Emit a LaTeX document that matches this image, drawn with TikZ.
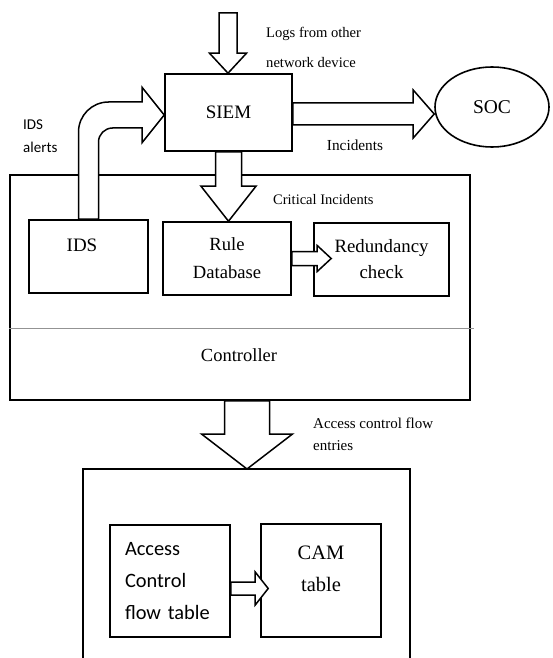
\documentclass[tikz,border=0pt]{standalone}
\usepackage{fontspec}
\setmainfont{Liberation Serif}
\newfontfamily\calib{Carlito}
\usetikzlibrary{calc,shapes.geometric}
\begin{document}
\begin{tikzpicture}[x=1pt,y=-1pt,
  box/.style={draw,line width=1.6pt,inner sep=0pt},
  barrow/.style={draw,fill=white,line width=1.5pt,line join=miter,miter limit=10},
  divider/.style={draw=gray!85,line width=0.9pt},
  lbl/.style={inner sep=0pt}]
\useasboundingbox (0,0) rectangle (552,658);

% main boxes
\node[box,minimum width=460pt,minimum height=225pt] (ctrl) at (240,287.5) {};
\node[box,minimum width=127pt,minimum height=77pt,font=\fontsize{19}{23}\selectfont] (siem) at (228.5,112.5) {SIEM};
\node[draw,ellipse,line width=1.6pt,minimum width=114pt,minimum height=80pt,inner sep=0pt,font=\fontsize{19.5}{23}\selectfont] (soc) at (492,107) {SOC};
\node[box,minimum width=119pt,minimum height=73pt] (ids) at (88.5,256.5) {};
\node[lbl,font=\fontsize{19}{23}\selectfont] (idsT) at (82,245) {IDS};
\node[box,minimum width=128pt,minimum height=73pt,align=center,font=\fontsize{18.6}{28}\selectfont] (rule) at (227,258.5) {Rule\\Database};
\node[box,minimum width=135pt,minimum height=73pt,align=center,font=\fontsize{18.8}{26}\selectfont] (red) at (381.5,259.5) {Redundancy\\check};
\coordinate (divR) at (474,328);
\draw[divider] (ctrl.west |- divR) -- (divR);
\node[lbl,font=\fontsize{18.5}{22}\selectfont] (ctrlT) at (239,355) {Controller};

% lower switch box (open at the bottom)
\coordinate (lowtop) at (247,469);
\draw[line width=1.6pt] (83,658) -- (83,469) -- (410,469) -- (410,658);
\node[box,minimum width=120pt,minimum height=112pt,text width=90pt,align=left,font=\calib\fontsize{20.4}{32}\selectfont] (acc) at (170,581) {Access\\Control\\flow table};
\node[box,minimum width=120pt,minimum height=113pt] (cam) at (321,580.5) {};
\node[lbl,align=center,font=\fontsize{20.5}{32}\selectfont] (camT) at (321,569) {CAM\\table};

% labels
\node[lbl,anchor=west,align=left,font=\fontsize{14.6}{30}\selectfont] (logsT) at (266,47) {Logs from other\\network device};
\node[lbl,anchor=west,align=left,font=\calib\fontsize{15}{23}\selectfont] (idsA) at (23,136.5) {IDS\\alerts};
\node[lbl,font=\fontsize{15.3}{18}\selectfont] (incT) at (355,145) {Incidents};
\node[lbl,anchor=west,font=\fontsize{14.5}{18}\selectfont] (critT) at (273,200) {Critical Incidents};
\node[lbl,anchor=west,align=left,font=\fontsize{15}{22}\selectfont] (accT) at (313,434) {Access control flow\\entries};

\coordinate (logsrc) at (228,13);

% block arrows
\draw[barrow] let \p1=(logsrc),\p2=(siem.north) in
  (\x1-9pt,\y1) -- (\x1-9pt,\y2+20pt) -- (\x1-18.5pt,\y2+20pt) -- (\x1,\y2)
  -- (\x1+18.5pt,\y2+20pt) -- (\x1+9pt,\y2+20pt) -- (\x1+9pt,\y1) -- cycle;

\draw[barrow] let \p1=(siem.south),\p2=(rule.north) in
  (\x1-13pt,\y1) -- (\x1-13pt,\y2+35pt) -- (\x1-27.5pt,\y2+35pt) -- (\x1,\y2)
  -- (\x1+27.5pt,\y2+35pt) -- (\x1+13pt,\y2+35pt) -- (\x1+13pt,\y1) -- cycle;

\draw[barrow] let \p1=(ctrl.south -| lowtop),\p2=(lowtop) in
  (\x1-22.5pt,\y1) -- (\x1-22.5pt,\y2+35pt) -- (\x1-45.5pt,\y2+35pt) -- (\x1,\y2)
  -- (\x1+45.5pt,\y2+35pt) -- (\x1+22.5pt,\y2+35pt) -- (\x1+22.5pt,\y1) -- cycle;

\draw[barrow] let \p1=(siem.east),\p2=(soc.west) in
  (\x1,\y1+9.5pt) -- (\x2-21pt,\y1+9.5pt) -- (\x2-21pt,\y1+22.5pt) -- (\x2,\y1-1.5pt)
  -- (\x2-21pt,\y1-25.5pt) -- (\x2-21pt,\y1-12.5pt) -- (\x1,\y1-12.5pt) -- cycle;

\draw[barrow] let \p1=(rule.east),\p2=(red.west) in
  (\x1,\y1+7pt) -- (\x2+4pt,\y1+7pt) -- (\x2+4pt,\y1+13pt) -- (\x2+18pt,\y1)
  -- (\x2+4pt,\y1-13pt) -- (\x2+4pt,\y1-7pt) -- (\x1,\y1-7pt) -- cycle;

\draw[barrow] let \p1=(acc.east),\p2=(cam.west) in
  (\x1,\y1-1pt) -- (\x2-5pt,\y1-1pt) -- (\x2-5pt,\y1+9pt) -- (\x2+8pt,\y1-7.5pt)
  -- (\x2-5pt,\y1-24pt) -- (\x2-5pt,\y1-14pt) -- (\x1,\y1-14pt) -- cycle;

% curved IDS alerts arrow
\draw[barrow] let \p1=(ids.north),\p2=(siem.west) in
  (\x1-10pt,\y1) -- (\x1-10pt,\y2-19.5pt)
  .. controls (\x1-10pt,\y2-2.9pt) and (\x1+3.4pt,\y2+10.5pt) .. (\x1+20pt,\y2+10.5pt)
  -- (\x2-22pt,\y2+10.5pt) -- (\x2-22pt,\y2+25pt) -- (\x2,\y2-2.5pt)
  -- (\x2-22pt,\y2-30pt) -- (\x2-22pt,\y2-15.5pt) -- (\x1+24pt,\y2-15.5pt)
  .. controls (\x1+16.3pt,\y2-15.5pt) and (\x1+10pt,\y2-21.8pt) .. (\x1+10pt,\y2-29.5pt)
  -- (\x1+10pt,\y1) -- cycle;
\end{tikzpicture}
\end{document}
